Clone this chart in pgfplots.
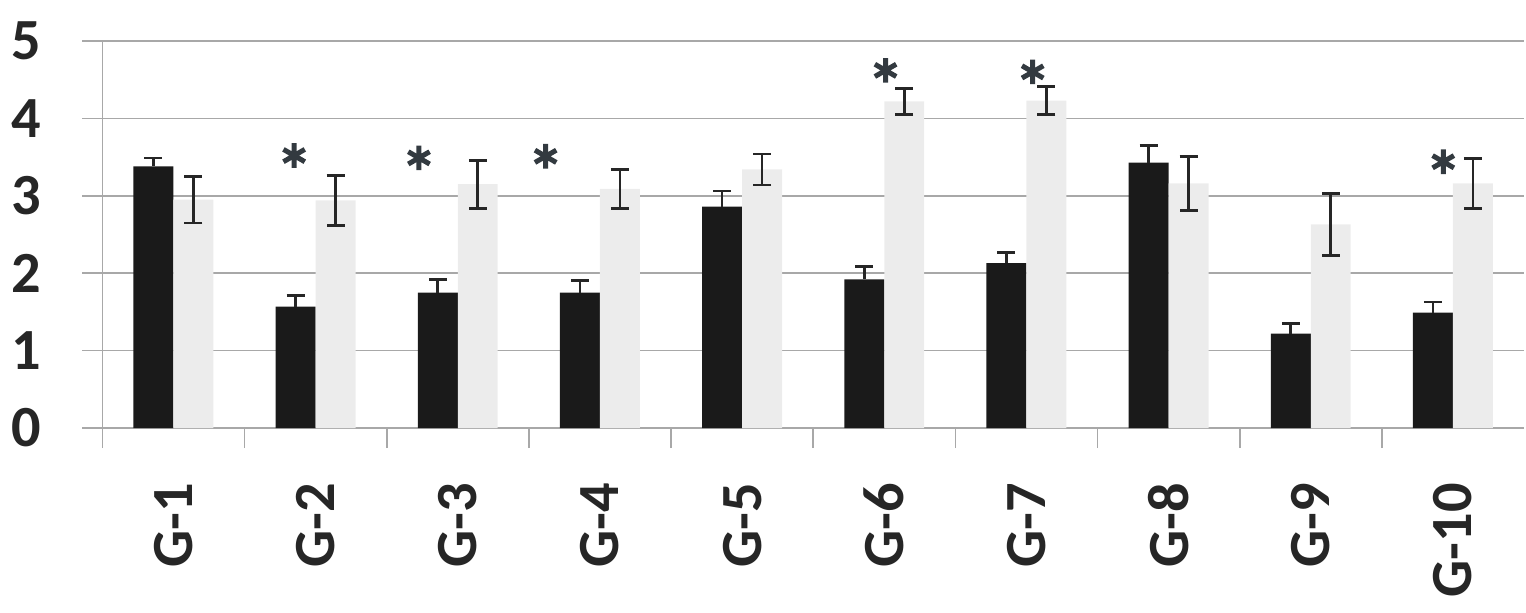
\documentclass[border=0pt]{standalone}
\usepackage{pgfplots}
\pgfplotsset{compat=1.18}
\usepackage{fontspec}
\setmainfont{Carlito}
\definecolor{barblack}{HTML}{1A1A1A}
\definecolor{barlight}{HTML}{ECECEC}
\definecolor{gridgray}{HTML}{A8A8A8}
\definecolor{stargray}{HTML}{333A40}
\begin{document}
\begin{tikzpicture}
\begin{axis}[
  scale only axis,
  width=426.9pt, height=116.25pt,
  xmin=-0.5, xmax=9.5, ymin=0, ymax=5,
  ybar=0pt, bar width=12pt,
  axis x line=bottom, axis y line=left,
  axis line style={-, gridgray, line width=0.5pt},
  xtick={-0.5,0.5,1.5,2.5,3.5,4.5,5.5,6.5,7.5,8.5},
  xticklabels={},
  extra x ticks={0,...,9},
  extra x tick labels={G-1,G-2,G-3,G-4,G-5,G-6,G-7,G-8,G-9,G-10},
  extra x tick style={grid=none, major tick length=0pt},
  ytick={0,...,5},
  ymajorgrids, grid style={gridgray, line width=0.5pt},
  tick style={draw=gridgray, line width=0.5pt},
  major tick length=6pt, tick align=outside,
  tick label style={font=\fontsize{17.5}{19}\selectfont\bfseries, text=black!85},
  /pgf/number format/assume math mode=true,
  xticklabel style={rotate=90, anchor=east},
  xticklabel shift=13pt,
  yticklabel shift=9pt,
  clip=false,
  error bars/error bar style={line width=0.8pt, black!85},
  error bars/error mark options={line width=0.8pt, black!85, mark size=2.7pt, rotate=90},
]
\addplot[fill=barblack, draw=none,
  error bars/.cd, y dir=plus, y explicit]
  coordinates {
  (0,3.38) +- (0,0.11)
  (1,1.57) +- (0,0.14)
  (2,1.75) +- (0,0.17)
  (3,1.75) +- (0,0.16)
  (4,2.86) +- (0,0.20)
  (5,1.92) +- (0,0.17)
  (6,2.13) +- (0,0.14)
  (7,3.43) +- (0,0.22)
  (8,1.22) +- (0,0.13)
  (9,1.49) +- (0,0.14)
};
\addplot[fill=barlight, draw=none,
  error bars/.cd, y dir=both, y explicit]
  coordinates {
  (0,2.95) +- (0,0.30)
  (1,2.94) +- (0,0.32)
  (2,3.15) +- (0,0.31)
  (3,3.09) +- (0,0.25)
  (4,3.34) +- (0,0.20)
  (5,4.22) +- (0,0.17)
  (6,4.23) +- (0,0.18)
  (7,3.16) +- (0,0.35)
  (8,2.63) +- (0,0.40)
  (9,3.16) +- (0,0.32)
};
\addplot[ybar=0pt, draw=none, fill=none, bar width=0pt, only marks, mark=asterisk, mark size=3.7pt,
  mark options={line width=1.5pt, stargray}]
  coordinates {
  (0.849,3.52) (1.727,3.49) (2.618,3.51) (5.009,4.62) (6.044,4.60) (8.932,3.44)
};
\coordinate (O) at (rel axis cs:0,0);
\coordinate (T) at (rel axis cs:1,1);
\end{axis}
\path[use as bounding box] ([xshift=-30.3pt,yshift=-55.35pt]O) rectangle ([xshift=0.6pt,yshift=12.3pt]T);
\end{tikzpicture}
\end{document}
